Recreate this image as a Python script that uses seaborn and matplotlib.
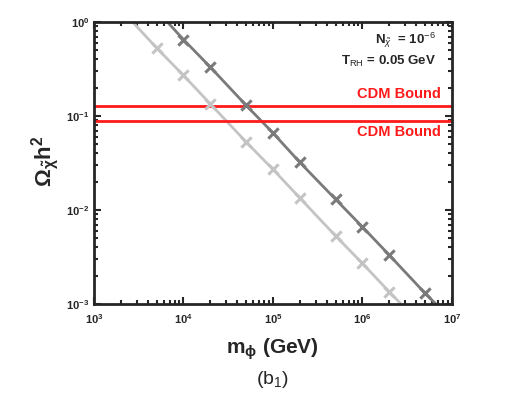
import numpy as np
import pandas as pd
import seaborn as sns
import matplotlib.pyplot as plt
from matplotlib.ticker import LogLocator, NullFormatter

# dark curve (endpoints where it leaves the frame)
m_dark = [6.6e3, 1e4, 2e4, 5e4, 1e5, 2e5, 5e5, 1e6, 2e6, 5e6, 6.6e6]
omega_dark = [1.0, 0.65, 0.33, 0.13, 0.066, 0.032, 0.013, 0.0066, 0.0033, 0.0013, 0.001]
# light curve
m_light = [2.7e3, 5e3, 1e4, 2e4, 5e4, 1e5, 2e5, 5e5, 1e6, 2e6, 2.7e6]
omega_light = [1.0, 0.53, 0.27, 0.134, 0.053, 0.027, 0.0134, 0.0053, 0.0027, 0.00134, 0.001]
cdm_bounds = [0.129, 0.0895]

sns.set_style("ticks")
plt.rcParams['font.family'] = ['Liberation Sans', 'DejaVu Sans']
plt.rcParams['mathtext.fontset'] = 'custom'
plt.rcParams['mathtext.rm'] = 'Liberation Sans'
plt.rcParams['mathtext.it'] = 'Liberation Sans:italic'
plt.rcParams['mathtext.bf'] = 'Liberation Sans:bold'

fig = plt.figure(figsize=(5.26, 3.93), dpi=100)
ax = fig.add_axes([0.1787, 0.2265, 0.6806, 0.7176])

df_dark = pd.DataFrame({"m": m_dark, "omega": omega_dark})
df_light = pd.DataFrame({"m": m_light, "omega": omega_light})

light_col = "#c4c4c4"
dark_col = "#7a7a7a"

sns.lineplot(data=df_light, x="m", y="omega", ax=ax, color=light_col, lw=2)
sns.scatterplot(data=df_light.iloc[1:-1], x="m", y="omega", ax=ax, color=light_col,
                marker="x", s=55, linewidth=2.2, zorder=3)
sns.lineplot(data=df_dark, x="m", y="omega", ax=ax, color=dark_col, lw=2)
sns.scatterplot(data=df_dark.iloc[1:-1], x="m", y="omega", ax=ax, color=dark_col,
                marker="x", s=55, linewidth=2.2, zorder=3)

for b in cdm_bounds:
    ax.axhline(b, color="#ff1a1a", lw=2)

ax.set_xscale("log")
ax.set_yscale("log")
ax.set_xlim(1e3, 1e7)
ax.set_ylim(1e-3, 1e0)

ax.set_xticks([1e3, 1e4, 1e5, 1e6, 1e7])
ax.set_yticks([1e-3, 1e-2, 1e-1, 1e0])
ax.xaxis.set_minor_locator(LogLocator(base=10, subs=np.arange(2, 10)))
ax.yaxis.set_minor_locator(LogLocator(base=10, subs=np.arange(2, 10)))
ax.xaxis.set_minor_formatter(NullFormatter())
ax.yaxis.set_minor_formatter(NullFormatter())
ax.tick_params(which="both", direction="in", top=True, right=True, width=1.5,
               labelsize=8)
ax.tick_params(which="major", length=5)
ax.tick_params(which="minor", length=3)
ax.tick_params(axis="x", pad=6)
for s in ax.spines.values():
    s.set_linewidth(2)
for lab in ax.get_xticklabels() + ax.get_yticklabels():
    lab.set_fontweight("bold")

ax.set_xlabel("")
ax.set_ylabel("")
fig.text(0.518, 0.112, r"$\mathbf{m_{\phi}}$ (GeV)", ha="center", va="center",
         fontsize=15, fontweight="bold")
fig.text(0.086, 0.59, r"$\mathbf{\Omega_{\tilde{\chi}} h^2}$", ha="center", va="center",
         rotation=90, fontsize=16, fontweight="bold")
fig.text(0.518, 0.035, r"(b$_1$)", ha="center", va="center", fontsize=14)

ax.text(0.955, 0.935, r"N$_{\tilde{\chi}}$  = 10$^{-6}$", transform=ax.transAxes,
        ha="right", va="center", fontsize=9.5, fontweight="bold")
ax.text(0.955, 0.86, r"T$_{\rm RH}$ = 0.05 GeV", transform=ax.transAxes,
        ha="right", va="center", fontsize=9.5, fontweight="bold")
ax.text(0.97, 0.146, "CDM Bound", color="#ff1a1a", fontsize=10.5, fontweight="bold",
        ha="right", va="bottom", transform=ax.get_yaxis_transform())
ax.text(0.97, 0.081, "CDM Bound", color="#ff1a1a", fontsize=10.5, fontweight="bold",
        ha="right", va="top", transform=ax.get_yaxis_transform())

fig.savefig("out.png", dpi=100)
